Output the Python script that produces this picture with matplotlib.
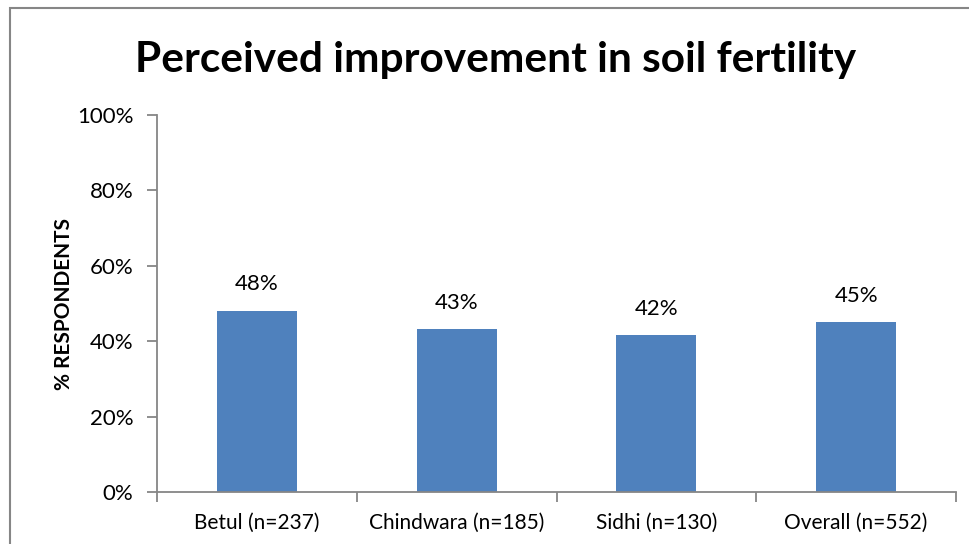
import matplotlib
matplotlib.use("Agg")
import matplotlib.pyplot as plt
from matplotlib.patches import Rectangle
from matplotlib.ticker import FixedLocator

categories = ["Betul (n=237)", "Chindwara (n=185)", "Sidhi (n=130)", "Overall (n=552)"]
values = [48.1, 43.2, 41.6, 45.0]
y_ticks = [0, 20, 40, 60, 80, 100]
title = "Perceived improvement in soil fertility"
y_label = "% RESPONDENTS"

FONT = ["Lato", "DejaVu Sans"]
BAR = "#4f81bd"
AXIS = "#868686"

W, H = 970, 544
fig = plt.figure(figsize=(W / 100, H / 100), dpi=100)

# chart area frame (runs off the right and bottom edges)
fig.patches.append(Rectangle((10 / W, -0.05), 1.2, (H - 8) / H + 0.05,
                             transform=fig.transFigure, fill=False,
                             edgecolor=AXIS, linewidth=1.5))

ax = fig.add_axes([157 / W, (H - 492) / H, (956 - 157) / W, (492 - 115) / H])
x = list(range(len(categories)))
ax.bar(x, values, width=0.4, color=BAR)
ax.set_xlim(-0.5, len(categories) - 0.5)
ax.set_ylim(0, 100)

for xi, v in zip(x, values):
    ax.annotate(f"{v:.0f}%", (xi, v), xytext=(0, 19), textcoords="offset points",
                ha="center", va="center", fontsize=16, family=FONT)

for s in ("top", "right"):
    ax.spines[s].set_visible(False)
for s in ("left", "bottom"):
    ax.spines[s].set_color(AXIS)
    ax.spines[s].set_linewidth(1.3)

ax.set_yticks(y_ticks)
ax.set_yticklabels([f"{t}%" for t in y_ticks], family=FONT, fontsize=16)
ax.set_xticks(x)
ax.set_xticklabels(categories, family=FONT, fontsize=15)
ax.tick_params(axis="x", length=0, pad=15)
ax.xaxis.set_minor_locator(FixedLocator([i - 0.5 for i in range(len(categories) + 1)]))
ax.tick_params(axis="x", which="minor", length=7, color=AXIS, width=1.3, direction="out")
ax.tick_params(axis="y", length=7, color=AXIS, width=1.3, pad=10)

ax.set_ylabel(y_label, family=FONT, fontsize=15, fontweight="bold", labelpad=2)

fig.text(496 / W, (H - 60) / H, title, ha="center", va="center",
         family=FONT, fontsize=30.5, fontweight="bold")

fig.savefig("out.png", dpi=100, facecolor="white")
